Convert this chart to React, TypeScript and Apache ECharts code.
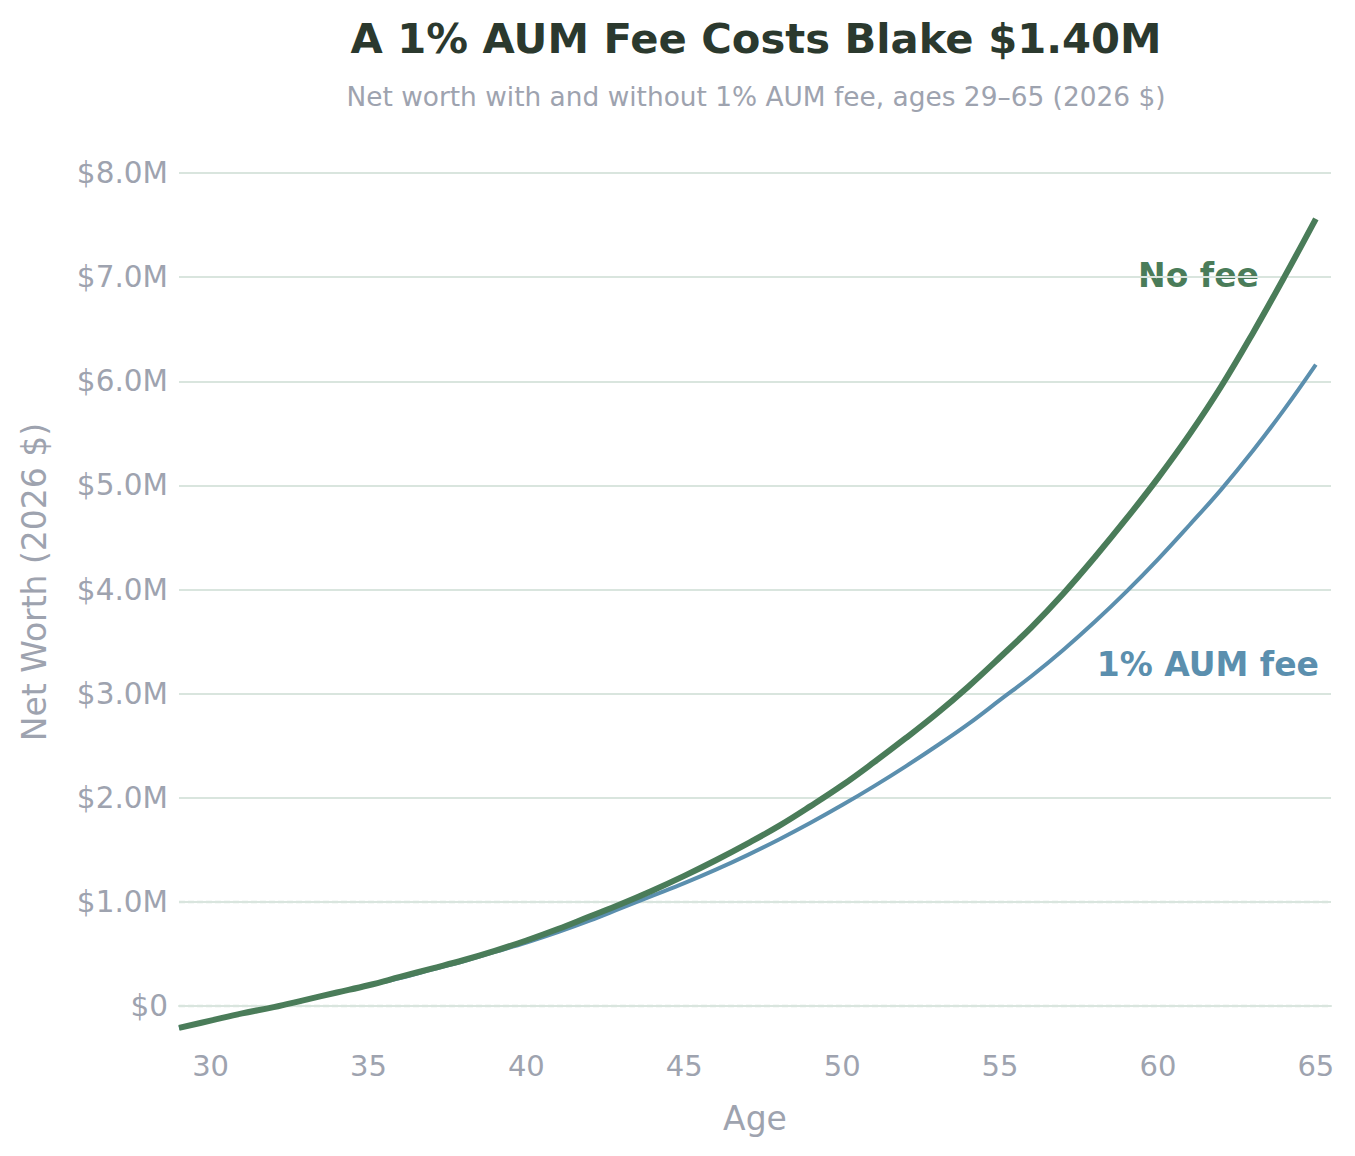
import React, { useEffect, useRef } from "react";
import * as echarts from "echarts";

// Ages plotted along the x axis
const ages: number[] = [
  29, 30, 31, 32, 33, 34, 35, 36, 37, 38, 39, 40, 41, 42, 43, 44, 45, 46, 47,
  48, 49, 50, 51, 52, 53, 54, 55, 56, 57, 58, 59, 60, 61, 62, 63, 64, 65,
];

// Net worth in millions of 2026 dollars, no advisory fee
const noFee: number[] = [
  -0.21, -0.14, -0.07, -0.01, 0.06, 0.13, 0.2, 0.28, 0.36, 0.44, 0.53, 0.63,
  0.74, 0.86, 0.98, 1.11, 1.25, 1.4, 1.56, 1.73, 1.92, 2.12, 2.34, 2.57, 2.81,
  3.07, 3.35, 3.64, 3.96, 4.31, 4.68, 5.07, 5.49, 5.95, 6.46, 7.0, 7.56,
];

// Net worth in millions of 2026 dollars, paying a 1% AUM fee
const withFee: number[] = [
  -0.21, -0.14, -0.07, -0.01, 0.06, 0.13, 0.2, 0.27, 0.35, 0.43, 0.52, 0.61,
  0.71, 0.82, 0.94, 1.06, 1.18, 1.31, 1.45, 1.6, 1.76, 1.93, 2.11, 2.3, 2.5,
  2.71, 2.94, 3.17, 3.42, 3.69, 3.98, 4.29, 4.62, 4.96, 5.33, 5.73, 6.16,
];

const xTicks: number[] = [30, 35, 40, 45, 50, 55, 60, 65];
const yTicks: number[] = [0, 1, 2, 3, 4, 5, 6, 7, 8];
const dashedRefs: number[] = [0, 1];

const X_MIN = 29;
const X_MAX = 65.48;

const TITLE = "A 1% AUM Fee Costs Blake $1.40M";
const SUBTITLE = "Net worth with and without 1% AUM fee, ages 29–65 (2026 $)";

const GREEN = "#4a7c59";
const BLUE = "#5b8fae";
const MUTED = "#9ea3af";
const GRID = "#d9e5de";
const FONT = "DejaVu Sans";

export default function App() {
  const ref = useRef<HTMLDivElement>(null);

  useEffect(() => {
    if (!ref.current) return;
    document.body.style.margin = "0";
    const chart = echarts.init(ref.current, undefined, { renderer: "svg" });

    const fmtY = (v: number) => (v === 0 ? "$0" : `$${v.toFixed(1)}M`);

    // dashed reference lines at $0 and $1M, drawn beneath the curves
    const refSeries = dashedRefs.map((v) => ({
      name: `ref-${v}`,
      type: "line",
      data: [
        [X_MIN, v],
        [X_MAX, v],
      ],
      showSymbol: false,
      silent: true,
      z: 1,
      lineStyle: { color: GRID, width: 2.6, type: [6, 3] },
    }));

    chart.setOption({
      animation: false,
      backgroundColor: "#ffffff",
      textStyle: { fontFamily: FONT },
      grid: {
        left: 179,
        right: 24,
        top: 122,
        bottom: 114,
        containLabel: false,
        outerBoundsMode: "none",
      },
      xAxis: {
        type: "value",
        min: X_MIN,
        max: X_MAX,
        axisLine: { show: true, lineStyle: { color: GRID, width: 2 } },
        axisTick: { show: false },
        splitLine: { show: false },
        axisLabel: {
          customValues: xTicks,
          color: MUTED,
          fontSize: 29,
          fontFamily: FONT,
          margin: 9,
        },
        name: "Age",
        nameLocation: "middle",
        nameGap: 60,
        nameTextStyle: { color: MUTED, fontSize: 33, fontFamily: FONT },
      },
      yAxis: {
        type: "value",
        min: -0.345,
        max: 8.49,
        axisLine: { show: false },
        axisTick: { show: false, customValues: yTicks },
        splitLine: { show: true, lineStyle: { color: GRID, width: 2 } },
        axisLabel: {
          customValues: yTicks,
          formatter: fmtY,
          color: MUTED,
          fontSize: 29.5,
          fontFamily: FONT,
          margin: 11,
        },
        name: "Net Worth (2026 $)",
        nameLocation: "middle",
        nameGap: 128,
        nameRotate: 90,
        nameTextStyle: { color: MUTED, fontSize: 33, fontFamily: FONT },
      },
      series: [
        ...refSeries,
        {
          name: "1% AUM fee",
          type: "line",
          data: ages.map((a, i) => [a, withFee[i]]),
          showSymbol: false,
          smooth: 0.4,
          lineStyle: { color: BLUE, width: 4 },
          z: 2,
        },
        {
          name: "No fee",
          type: "line",
          data: ages.map((a, i) => [a, noFee[i]]),
          showSymbol: false,
          smooth: 0.4,
          lineStyle: { color: GREEN, width: 6 },
          z: 3,
        },
      ],
      graphic: [
        {
          type: "text",
          x: 756,
          y: 38,
          style: {
            text: TITLE,
            fill: "#2b392e",
            font: `bold 41.7px "${FONT}"`,
            textAlign: "center",
            textVerticalAlign: "middle",
          },
        },
        {
          type: "text",
          x: 756,
          y: 96,
          style: {
            text: SUBTITLE,
            fill: MUTED,
            font: `26.4px "${FONT}"`,
            textAlign: "center",
            textVerticalAlign: "middle",
          },
        },
        {
          type: "text",
          x: 1259,
          y: 275,
          style: {
            text: "No fee",
            fill: GREEN,
            font: `bold 33px "${FONT}"`,
            textAlign: "right",
            textVerticalAlign: "middle",
          },
        },
        {
          type: "text",
          x: 1319,
          y: 664,
          style: {
            text: "1% AUM fee",
            fill: BLUE,
            font: `bold 33px "${FONT}"`,
            textAlign: "right",
            textVerticalAlign: "middle",
          },
        },
      ],
    });

    return () => chart.dispose();
  }, []);

  return <div ref={ref} style={{ width: 1355, height: 1156 }} />;
}
